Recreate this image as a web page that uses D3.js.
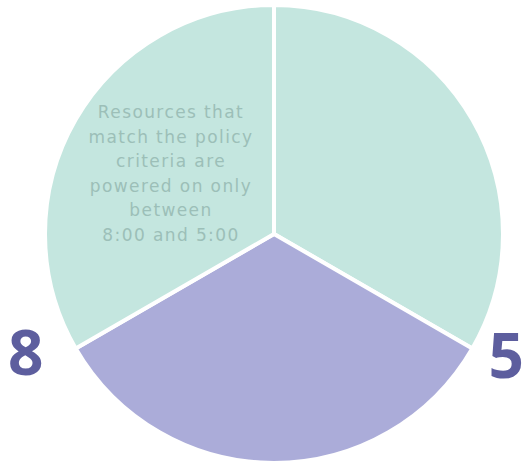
<!DOCTYPE html>
<html>
<head>
<meta charset="utf-8">
<script src="https://cdn.jsdelivr.net/npm/d3@7"></script>
<style>
  body { margin: 0; background: #ffffff; }
  .note { font-family: "DejaVu Sans", sans-serif; font-size: 17px; letter-spacing: 1.4px; fill: #9cbfb8; }
  .hour { font-family: "Open Sans", sans-serif; font-weight: 700; font-size: 62px; fill: #5d5e9e; }
</style>
</head>
<body>
<div class="svg-container"></div>
<script>
var width = 526;
var height = 465;

// three equal slices, clockwise from 12 o'clock
var slices = ["right", "bottom", "left"];
var sliceValues = [1, 1, 1];
var sliceColors = ["#c4e6df", "#abacd9", "#c4e6df"];

// text inside the top-left slice
var noteLines = ["Resources that", "match the policy", "criteria are",
                 "powered on only", "between", "8:00 and 5:00"];

// hour labels sit at the ends of the bottom slice's edges
var hourLabels = ["8", "5"];

var cx = 274, cy = 234, radius = 229;

var svg = d3.select(".svg-container")
            .append("svg")
            .attr("width", width)
            .attr("height", height);

var defs = svg.append("defs");

// soft bevel on each slice
var bevel = defs.append("filter")
                .attr("id", "bevel")
                .attr("x", "-5%").attr("y", "-5%")
                .attr("width", "110%").attr("height", "110%");
bevel.append("feGaussianBlur")
     .attr("in", "SourceAlpha").attr("stdDeviation", 2).attr("result", "blur");
bevel.append("feComposite")
     .attr("in", "SourceAlpha").attr("in2", "blur")
     .attr("operator", "arithmetic")
     .attr("k2", 1).attr("k3", -1).attr("result", "edge");
bevel.append("feFlood").attr("flood-color", "#ffffff").attr("flood-opacity", 0.6);
bevel.append("feComposite").attr("in2", "edge").attr("operator", "in").attr("result", "rim");
bevel.append("feMerge").call(function(m) {
    m.append("feMergeNode").attr("in", "SourceGraphic");
    m.append("feMergeNode").attr("in", "rim");
});

var g = svg.append("g")
           .attr("transform", "translate(" + cx + "," + cy + ")");

var pie = d3.pie()
            .sort(null)
            .value(function(d) { return d; });

var arc = d3.arc()
            .innerRadius(0)
            .outerRadius(radius);

var arcs = pie(sliceValues);

g.selectAll("path.slice")
 .data(arcs)
 .enter()
 .append("path")
 .attr("class", "slice")
 .attr("d", arc)
 .attr("fill", function(d, i) { return sliceColors[i]; })
 .attr("stroke", "#ffffff")
 .attr("stroke-width", 4)
 .attr("stroke-linejoin", "round")
 .attr("filter", "url(#bevel)");

// note text, centred in the top-left slice
var note = g.append("text")
            .attr("class", "note")
            .attr("text-anchor", "middle")
            .attr("transform", "translate(-103,-116)");

note.selectAll("tspan")
    .data(noteLines)
    .enter()
    .append("tspan")
    .attr("x", 0)
    .attr("dy", function(d, i) { return i == 0 ? 0 : 24.5; })
    .text(function(d) { return d; });

// hour labels beside the bottom slice's edges
var bottom = arcs[1];
var ends = [bottom.endAngle, bottom.startAngle];

g.selectAll("text.hour")
 .data(hourLabels)
 .enter()
 .append("text")
 .attr("class", "hour")
 .attr("text-anchor", "middle")
 .attr("x", function(d, i) {
     var a = ends[i];
     return Math.sin(a) * radius + (i == 0 ? -50 : 34);
 })
 .attr("y", function(d, i) {
     var a = ends[i];
     return -Math.cos(a) * radius + (i == 0 ? 26 : 29);
 })
 .text(function(d) { return d; });
</script>
</body>
</html>
